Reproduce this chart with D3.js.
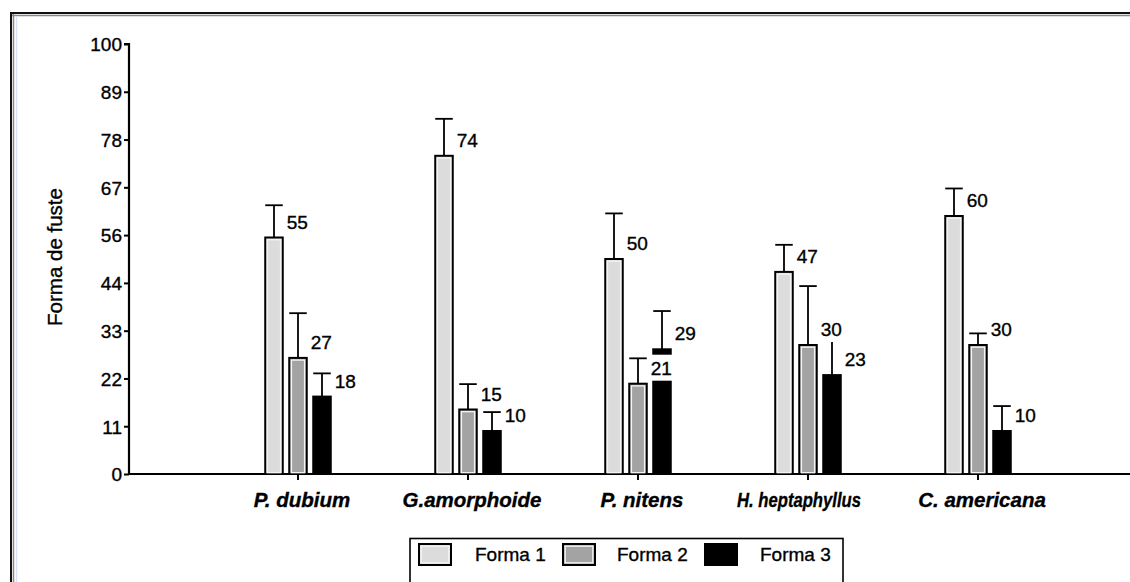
<!DOCTYPE html>
<html><head><meta charset="utf-8">
<script src="https://cdn.jsdelivr.net/npm/d3@7"></script>
<style>
html,body{margin:0;padding:0;background:#fff;}
svg{display:block;font-family:"Liberation Sans",Arial,sans-serif;}
svg text{stroke:#000;stroke-width:0.35px;}
</style></head>
<body>
<svg id="chart" width="1130" height="582"></svg>
<script>
const categories = ["P. dubium","G.amorphoide","P. nitens","H. heptaphyllus","C. americana"];
const seriesNames = ["Forma 1","Forma 2","Forma 3"];
const forma1 = [55,74,50,47,60];
const forma2 = [27,15,21,30,30];
const forma3 = [18,10,29,23,10];
const forma1Err = [7.5,8.6,10.6,6.3,6.4];
const forma2Err = [10.4,5.9,5.9,13.7,2.7];
const forma3Err = [5.4,4.4,8.9,10,5.8];
const tickValues = [0,11.11,22.22,33.33,44.44,55.56,66.67,77.78,88.89,100];
const tickLabels = ["0","11","22","33","44","56","67","78","89","100"];
const fills = ["#dcdcdc","#a3a3a3","#000000"];

const values = [forma1,forma2,forma3];
const errs = [forma1Err,forma2Err,forma3Err];

const svg = d3.select("#chart");

// frame
svg.append("line").attr("x1",10).attr("x2",1130).attr("y1",13).attr("y2",13).attr("stroke","#111").attr("stroke-width",2);
svg.append("line").attr("x1",12).attr("x2",1130).attr("y1",15.5).attr("y2",15.5).attr("stroke","#888").attr("stroke-width",1.5);
svg.append("line").attr("x1",11).attr("x2",11).attr("y1",12).attr("y2",582).attr("stroke","#111").attr("stroke-width",2);
svg.append("line").attr("x1",13.5).attr("x2",13.5).attr("y1",14).attr("y2",582).attr("stroke","#888").attr("stroke-width",1.5);
svg.append("line").attr("x1",16.5).attr("x2",16.5).attr("y1",17).attr("y2",582).attr("stroke","#d6e4f5").attr("stroke-width",1.5);

const y = d3.scaleLinear().domain([0,100]).range([474,44]);
const x0 = d3.scaleBand().domain(categories).range([213,1063]).paddingInner(0).paddingOuter(0);
const x1 = d3.scaleBand().domain(seriesNames).range([-36,36]).paddingInner(0.27).paddingOuter(0.135);

// y axis
const yAxis = d3.axisLeft(y).tickValues(tickValues).tickFormat((d,i)=>tickLabels[i]).tickSize(5).tickPadding(2);
const gy = svg.append("g").attr("transform","translate(129,0)").call(yAxis);
gy.select(".domain").attr("stroke","#000").attr("stroke-width",2.2).attr("d","M-5,44H0V474");
gy.selectAll(".tick line").attr("stroke","#000").attr("stroke-width",2);
gy.selectAll(".tick text").attr("fill","#000").style("font-size","19px").attr("dy","0.36em");

// x axis
const xAxis = d3.axisBottom(x0).tickSize(6).tickPadding(10);
const gx = svg.append("g").attr("transform","translate(0,474)").call(xAxis);
gx.select(".domain").attr("stroke","#000").attr("stroke-width",2.2).attr("d","M128,0H1130");
gx.selectAll(".tick line").attr("stroke","#000").attr("stroke-width",2);
gx.selectAll(".tick text").attr("fill","#000").style("font-size","20.5px").style("font-weight","bold").style("font-style","italic").attr("dy","0.85em")
  .each(function(){
    const t = d3.select(this);
    const w = this.getComputedTextLength();
    if (w > 146) { t.attr("textLength",124).attr("lengthAdjust","spacingAndGlyphs").attr("x",-9); }
    else { t.attr("x",4); }
  });

// axis title
svg.append("text").attr("transform","translate(62,257) rotate(-90)").attr("text-anchor","middle")
  .style("font-size","20.5px").attr("fill","#000").text("Forma de fuste");

// bars
const groups = svg.append("g").selectAll("g").data(categories).join("g")
  .attr("transform",d=>`translate(${x0(d)+x0.bandwidth()/2},0)`);

const bw = x1.bandwidth();
seriesNames.forEach((s,si)=>{
  groups.each(function(c,ci){
    const g = d3.select(this);
    const v = values[si][ci], e = errs[si][ci];
    const bx = x1(s);
    g.append("line").attr("x1",bx+bw/2).attr("x2",bx+bw/2).attr("y1",y(v)).attr("y2",y(v+e)).attr("stroke","#000").attr("stroke-width",1.8);
    g.append("line").attr("x1",bx).attr("x2",bx+bw).attr("y1",y(v+e)).attr("y2",y(v+e)).attr("stroke","#000").attr("stroke-width",1.8);
    g.append("rect").attr("x",bx).attr("y",y(v)).attr("width",bw).attr("height",y(0)-y(v))
      .attr("fill",fills[si]).attr("stroke","#000").attr("stroke-width",2);
    if(si<2){
      g.append("rect").attr("x",bx+2.2).attr("y",y(v)+2.2).attr("width",bw-4.4).attr("height",y(0)-y(v)-3.5)
        .attr("fill","none").attr("stroke","#f4f4f4").attr("stroke-width",1.3);
    }
  });
});

// value labels (with white background)
seriesNames.forEach((s,si)=>{
  groups.each(function(c,ci){
    const g = d3.select(this);
    const v = values[si][ci];
    const bx = x1(s);
    const tx = bx+bw+4, ty = y(v)-9;
    const bg = g.append("rect").attr("fill","#fff");
    const t = g.append("text").attr("x",tx).attr("y",ty).style("font-size","19px").attr("fill","#000").text(v);
    const bb = t.node().getBBox();
    bg.attr("x",tx-2).attr("y",ty-20).attr("width",bb.width+5).attr("height",26);
  });
});

// legend
const lg = svg.append("g");
lg.append("rect").attr("x",410).attr("y",538.5).attr("width",433).attr("height",60).attr("fill","#fff").attr("stroke","#000").attr("stroke-width",1.6);
const legX = [419,563,705];
const legTX = [475,617,760];
seriesNames.forEach((s,si)=>{
  lg.append("rect").attr("x",legX[si]).attr("y",544).attr("width",32).attr("height",21)
    .attr("fill",fills[si]).attr("stroke","#000").attr("stroke-width",2);
  if(si<2){
    lg.append("rect").attr("x",legX[si]+2.2).attr("y",546.2).attr("width",27.6).attr("height",16.6)
      .attr("fill","none").attr("stroke","#f4f4f4").attr("stroke-width",1.3);
  }
  lg.append("text").attr("x",legTX[si]).attr("y",561).style("font-size","19px").attr("fill","#000").text(s);
});
</script>
</body></html>
